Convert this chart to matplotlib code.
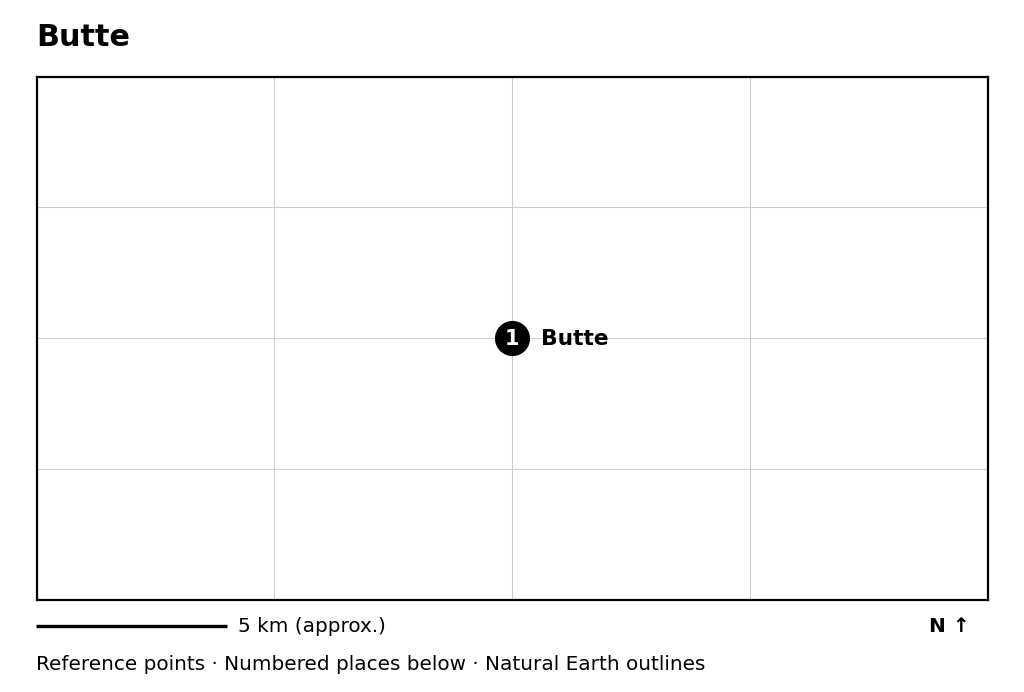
import matplotlib
matplotlib.use('Agg')
import matplotlib.pyplot as plt

# Data
title = 'Butte'
place_names = ['Butte']
place_numbers = ['1']
place_x = [0.5]
place_y = [0.5]
grid_x = [0.25, 0.5, 0.75]
grid_y = [0.25, 0.5, 0.75]
scale_label = '5 km (approx.)'
north_label = 'N ↑'
footer = 'Reference points · Numbered places below · Natural Earth outlines'

W, H = 1024, 692
fig = plt.figure(figsize=(W / 100, H / 100), dpi=100)
ax = fig.add_axes([36.6 / W, 1 - 600 / H, 951 / W, 523.4 / H])
ax.set_xlim(0, 1)
ax.set_ylim(0, 1)
ax.set_xticks([])
ax.set_yticks([])
for s in ax.spines.values():
    s.set_linewidth(1.6)
    s.set_color('black')

for gx in grid_x:
    ax.axvline(gx, color='#cccccc', lw=0.75, zorder=1)
for gy in grid_y:
    ax.axhline(gy, color='#cccccc', lw=0.75, zorder=1)

for x, y, num, name in zip(place_x, place_y, place_numbers, place_names):
    ax.scatter([x], [y], s=640, color='black', zorder=3, linewidths=0)
    ax.annotate(num, (x, y), xytext=(0, 1), textcoords='offset points', color='white', fontsize=15,
                fontweight='bold', ha='center', va='center_baseline', zorder=4)
    ax.annotate(name, (x, y), xytext=(21, 1), textcoords='offset points', fontsize=15.7, fontweight='bold',
                ha='left', va='center_baseline', zorder=4)

fig.text(36 / W, 1 - 35 / H, title, fontsize=21.8, fontweight='bold', ha='left', va='center_baseline')

# scale bar and notes under the map
fig.add_artist(plt.Line2D([36.3 / W, 227 / W], [1 - 626 / H] * 2, color='black', lw=2.4, solid_capstyle='butt'))
fig.text(238 / W, 1 - 624.5 / H, scale_label, fontsize=14.4, ha='left', va='center_baseline')
fig.text(970 / W, 1 - 624.5 / H, north_label, fontsize=14.4, fontweight='bold', ha='right', va='center_baseline')
fig.text(36 / W, 1 - 663 / H, footer, fontsize=14.38, ha='left', va='center_baseline')

fig.savefig('out.png', dpi=100)
